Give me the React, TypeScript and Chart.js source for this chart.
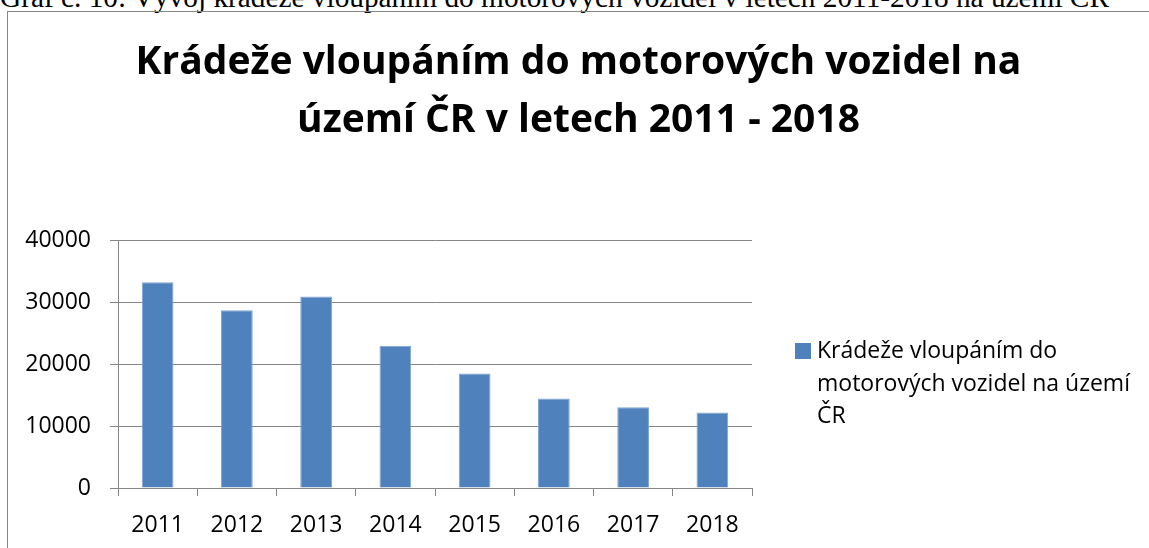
import React, { useEffect, useRef } from "react";
import { Chart, registerables } from "chart.js";

Chart.register(...registerables);

const categories = ["2011", "2012", "2013", "2014", "2015", "2016", "2017", "2018"];
const values = [33200, 28700, 30900, 22950, 18500, 14450, 13050, 12200];
const yTicks = [0, 10000, 20000, 30000, 40000];
const seriesLabel = "Krádeže vloupáním do motorových vozidel na území ČR";
const legendLines = ["Krádeže vloupáním do", "motorových vozidel na území", "ČR"];
const titleLines = ["Krádeže vloupáním do motorových vozidel na", "území ČR v letech 2011 - 2018"];
const caption = "Graf č. 10: Vývoj krádeže vloupáním do motorových vozidel v letech 2011-2018 na území ČR";

const GRAY = "#868686";
const BLUE = "#4F81BD";
const FONT = '"Open Sans"';

const legendPlugin = {
  id: "customLegend",
  afterDraw(chart: any) {
    const ctx = chart.ctx;
    const area = chart.chartArea;
    const x0 = area.right + 43;
    const y0 = 331;
    ctx.save();
    ctx.fillStyle = BLUE;
    ctx.fillRect(x0, y0, 16, 16);
    ctx.fillStyle = "#000";
    ctx.font = `23px ${FONT}`;
    ctx.textBaseline = "alphabetic";
    ctx.textAlign = "left";
    const baseY = [346, 379, 411];
    legendLines.forEach((l, i) => ctx.fillText(l, x0 + 22, baseY[i]));
    ctx.restore();
  },
};

export default function App() {
  const ref = useRef<HTMLCanvasElement | null>(null);
  useEffect(() => {
    if (!ref.current) return;
    const chart = new Chart(ref.current, {
      type: "bar",
      data: {
        labels: categories,
        datasets: [
          {
            label: seriesLabel,
            data: values,
            backgroundColor: BLUE,
            borderColor: "#7FA3D3",
            borderWidth: 1,
            barPercentage: 0.4,
            categoryPercentage: 1,
            yAxisID: "y",
          },
        ],
      },
      options: {
        animation: false,
        responsive: false,
        maintainAspectRatio: false,
        layout: { padding: 0 },
        plugins: {
          legend: { display: false },
          tooltip: { enabled: false },
          title: {
            display: true,
            text: titleLines,
            color: "#000",
            font: { family: FONT, size: 39, weight: "bold", lineHeight: 1.49 },
            padding: { top: 22, bottom: 90 },
          },
        },
        scales: {
          x: {
            grid: { display: true, drawOnChartArea: false, drawTicks: true, tickLength: 8, color: GRAY, offset: true },
            border: { display: true, color: GRAY },
            ticks: { color: "#000", font: { family: FONT, size: 23 }, padding: 16, maxRotation: 0 },
            afterFit: (s: any) => { s.height = 60; },
          },
          y: {
            min: 0,
            max: 40000,
            afterBuildTicks: (s: any) => { s.ticks = yTicks.map((v) => ({ value: v })); },
            grid: { color: GRAY, tickLength: 8, drawTicks: true },
            border: { display: true, color: GRAY },
            ticks: { color: "#000", font: { family: FONT, size: 23 }, padding: 19, callback: (v: any) => String(v) },
            afterFit: (s: any) => { s.width = 110; },
          },
          yR: {
            type: "linear",
            position: "right",
            display: true,
            grid: { display: false, drawTicks: false },
            border: { display: false },
            ticks: { display: false },
            afterFit: (s: any) => { s.width = 397; },
          },
        },
      } as any,
      plugins: [legendPlugin],
    });
    return () => chart.destroy();
  }, []);

  return (
    <div style={{ position: "fixed", left: 0, top: 0, width: "100vw", height: "100vh", overflow: "hidden", background: "#fff" }}>
      <div
        style={{
          position: "absolute",
          left: 0,
          top: -17,
          fontFamily: '"Liberation Serif", "Times New Roman", serif',
          fontSize: 29.3,
          lineHeight: 1,
          whiteSpace: "nowrap",
          color: "#000",
        }}
      >
        {caption}
      </div>
      <div
        style={{
          position: "absolute",
          left: 7,
          top: 11,
          width: 1200,
          height: 600,
          borderLeft: `1px solid ${GRAY}`,
          borderTop: `1px solid ${GRAY}`,
        }}
      >
        <canvas ref={ref} width={1141} height={536} style={{ display: "block", width: 1141, height: 536 }} />
      </div>
    </div>
  );
}
